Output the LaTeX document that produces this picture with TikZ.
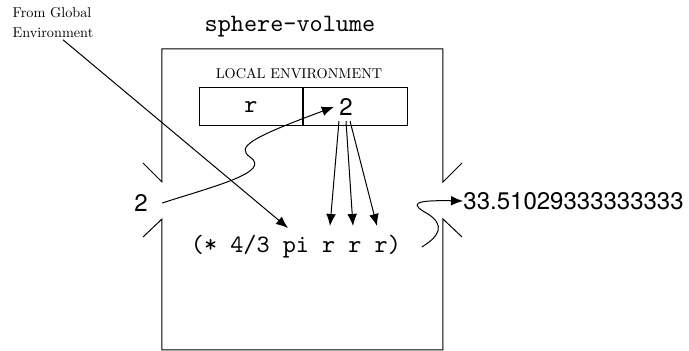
\documentclass[tikz,border=0pt]{standalone}
\usepackage{fontspec}
\newfontfamily\helv{TeX Gyre Heros}
\usetikzlibrary{arrows.meta}

\begin{document}
\begin{tikzpicture}[x=0.4pt,y=-0.4pt,
	arr/.style={-{Latex[length=4.8pt,width=3.9pt]}, thin},
	cell/.style={draw, thin, minimum width=41.4pt, minimum height=15.2pt, inner sep=0pt},
	num/.style={font=\fontsize{9.6}{11}\helv},
	small/.style={font=\fontsize{10}{14}\selectfont, scale=0.57, inner sep=1pt}]

	\useasboundingbox (0,0) rectangle (689,351);

	% the procedure, with its two openings
	\draw [thin] (143,163) -- (162,182) -- (162,49) -- (443,49) -- (443,182) -- (462,163);
	\draw [thin] (143,237) -- (162,219) -- (162,350) -- (443,350) -- (443,219) -- (462,237);

	\node (title) at (290,27) {\ttfamily sphere-volume};
	\node [small, align=left] (global) at (53,23) {From Global\\Environment};
	\node [small] (localenv) at (299,74) {LOCAL ENVIRONMENT};

	% local environment: one binding
	\node [cell] (namecell) at (251,107) {\ttfamily r};
	\node [cell, anchor=west] (valcell) at (namecell.east) {};
	\node [num, inner sep=2pt] (val) at (346,107) {2};

	\node [num, inner sep=0pt] (arg) at (141,203) {2};
	\node (expr) at (296,247) {\ttfamily (* 4/3 pi r r r)};
	\node [num, anchor=west, inner sep=0pt] (result) at (463,201) {33.51029333333333};

	\coordinate (pi) at (288,228);
	\coordinate (r1) at (330,226);
	\coordinate (r2) at (353,226);
	\coordinate (r3) at (377,226);

	\draw [arr] ([xshift=4pt]global.south) -- (pi);
	\draw [arr] ([xshift=5.6pt]arg.east) .. controls (215,186) and (272,172) .. (250,157)
		.. controls (236,147) and (250,138) .. (val.west);
	\draw [arr] ([xshift=-2.8pt]val.south) -- (r1);
	\draw [arr] (val.south) -- (r2);
	\draw [arr] ([xshift=1.6pt]val.south) -- (r3);
	\draw [arr] ([xshift=4.8pt]expr.east) .. controls (440,236) and (445,225) .. (428,214)
		.. controls (410,204) and (412,200) .. (result.west);
\end{tikzpicture}
\end{document}
